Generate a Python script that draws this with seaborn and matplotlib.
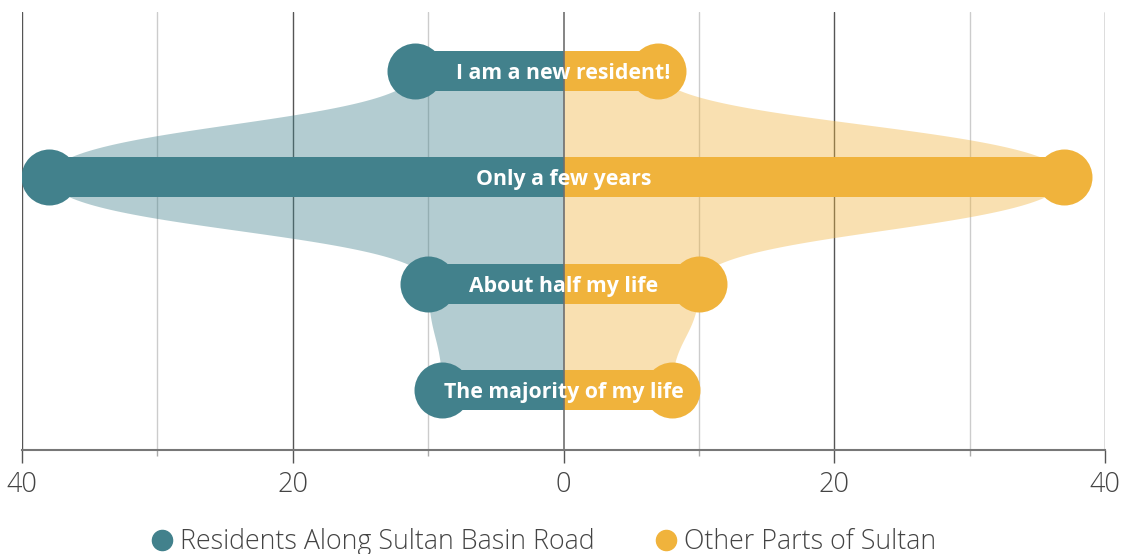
import numpy as np
import matplotlib
matplotlib.use("Agg")
import matplotlib.pyplot as plt
from matplotlib.lines import Line2D
import seaborn as sns

# Data
categories = ["I am a new resident!", "Only a few years", "About half my life", "The majority of my life"]
sultan_basin = [11, 38, 10, 9]
other_parts = [7, 37, 10, 8]
series_names = ["Residents Along Sultan Basin Road", "Other Parts of Sultan"]
tick_values = [-40, -20, 0, 20, 40]
tick_labels = ["40", "20", "0", "20", "40"]

teal = "#42818c"
gold = "#f0b33c"
text_col = "#444444"

sns.set_theme(style="white")
plt.rcParams["font.family"] = ["Open Sans", "DejaVu Sans"]


def bump_outline(values):
    # vertical "bump" curve through the row values (cubic bezier, mid-row control points)
    ys, xs = [], []
    s = np.linspace(0, 1, 80)
    for i in range(len(values) - 1):
        v0, v1 = values[i], values[i + 1]
        ys.append(i + 1.5 * s * (1 - s) + s ** 3)
        xs.append(v0 + (v1 - v0) * (3 * s ** 2 - 2 * s ** 3))
    return np.concatenate(ys), np.concatenate(xs)


fig = plt.figure(figsize=(11.24, 5.54), dpi=100)
ax = fig.add_axes([22 / 1124, 104 / 554, 1083 / 1124, 438 / 554])

# grid lines
for x in [-40, -20, 20, 40]:
    ax.axvline(x, color="#555555", lw=1, zorder=0)
for x in [-30, -10, 10, 30]:
    ax.axvline(x, color="#cccccc", lw=1, zorder=0)

# shaded shape
y_l, x_l = bump_outline(sultan_basin)
y_r, x_r = bump_outline(other_parts)
ax.fill_betweenx(y_l, 0, -x_l, color=teal, alpha=0.4, lw=0, zorder=1)
ax.fill_betweenx(y_r, 0, x_r, color=gold, alpha=0.4, lw=0, zorder=1)

# bars
left_vals = [-v for v in sultan_basin]
sns.barplot(x=left_vals, y=categories, orient="h", color=teal, saturation=1,
            width=0.376, linewidth=0, ax=ax, zorder=2)
sns.barplot(x=other_parts, y=categories, orient="h", color=gold, saturation=1,
            width=0.376, linewidth=0, ax=ax, zorder=2)

# lollipop heads
sns.scatterplot(x=left_vals, y=categories, s=1625, color=teal, linewidth=0,
                ax=ax, zorder=3, legend=False)
sns.scatterplot(x=other_parts, y=categories, s=1625, color=gold, linewidth=0,
                ax=ax, zorder=3, legend=False)

ax.axvline(0, color="#6f6f6f", lw=1.2, zorder=4)

for i, cat in enumerate(categories):
    ax.text(0, i, cat, ha="center", va="center_baseline", color="white",
            fontsize=15.3, fontweight="bold", zorder=5)

ax.set_xlim(-40, 40)
ax.set_ylim(3.564, -0.555)
ax.set_ylabel("")
ax.set_xlabel("")
ax.set_yticks([])
ax.set_xticks(tick_values, labels=tick_labels)
ax.set_xticks([-30, -10, 10, 30], minor=True)
ax.tick_params(axis="x", which="major", length=9.4, width=1, color="#555555",
               labelsize=19.5, labelcolor=text_col, pad=6, bottom=True)
ax.tick_params(axis="x", which="minor", length=4.3, width=1, color="#aaaaaa", bottom=True)
for lab in ax.get_xticklabels():
    lab.set_fontweight("light")

for side in ["top", "left", "right"]:
    ax.spines[side].set_visible(False)
ax.spines["bottom"].set_color("#777777")
ax.spines["bottom"].set_linewidth(1.5)
ax.spines["bottom"].set_zorder(6)

handles = [Line2D([], [], marker="o", ls="", color=teal, markersize=14.5),
           Line2D([], [], marker="o", ls="", color=gold, markersize=14.5)]
leg = fig.legend(handles, series_names, loc="center", bbox_to_anchor=(0.484, 12 / 554),
                 ncol=2, frameon=False, fontsize=19.3, handletextpad=0.3,
                 columnspacing=2.3, handlelength=0.75)
for t in leg.get_texts():
    t.set_color(text_col)
    t.set_fontweight("light")

fig.savefig("out.png", dpi=100)
